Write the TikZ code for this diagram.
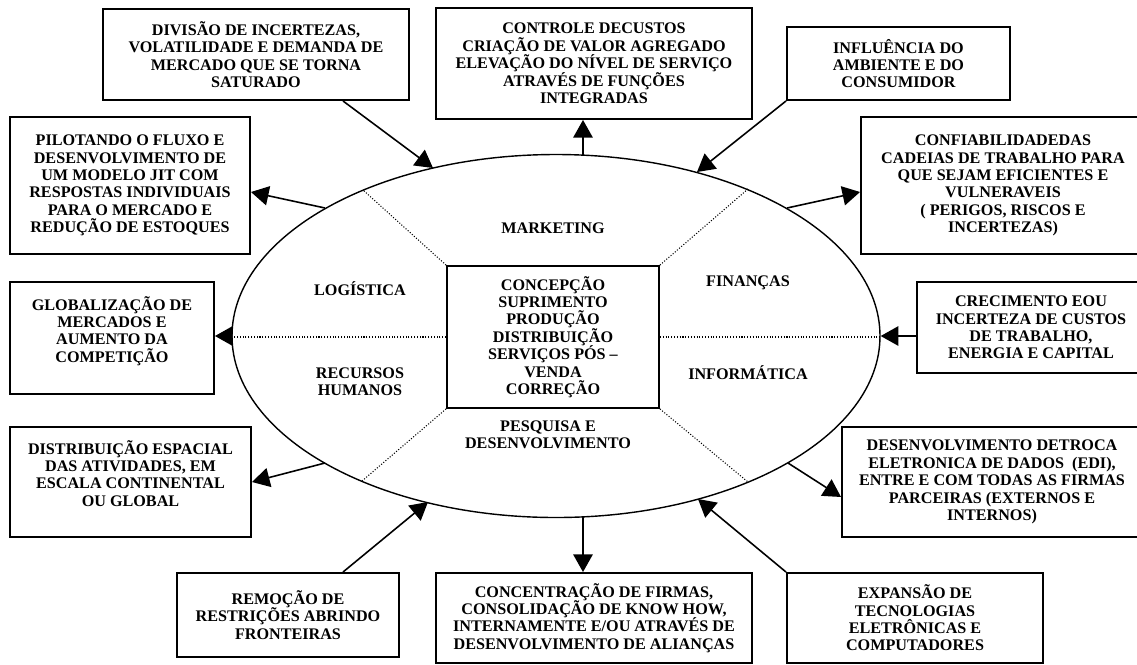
\documentclass[tikz,border=0pt]{standalone}
\usepackage{fontspec}
\setmainfont{Liberation Serif}
\usetikzlibrary{arrows.meta,shapes.geometric,calc}
\begin{document}
\begin{tikzpicture}[x=0.02cm, y=-0.02cm,
        box/.style 2 args={draw, line width=1.1pt, align=center, inner sep=0pt,
            minimum width=#1*0.02cm, minimum height=#2*0.02cm,
            font=\bfseries\fontsize{9.2}{9.9}\selectfont},
        lbl/.style={align=center, font=\bfseries\fontsize{9.2}{9.9}\selectfont},
        link/.style={line width=0.9pt, -{Triangle[length=10pt,width=11pt]}},
        sep/.style={densely dotted, line width=0.6pt}]
    \useasboundingbox (0,0) rectangle (1137,664);
        \node[draw, ellipse, line width=0.8pt, inner sep=0pt, minimum width=648*0.02cm, minimum height=363*0.02cm] (ell) at (556,336) {};
        \node[box={212}{142}] (ctr) at (553,337) {CONCEPÇÃO\\SUPRIMENTO\\PRODUÇÃO\\DISTRIBUIÇÃO\\SERVIÇOS PÓS --\\VENDA\\CORREÇÃO};
        \node[lbl] (mkt) at (553,228) {MARKETING};
        \node[lbl] (log) at (360,289) {LOGÍSTICA};
        \node[lbl] (fin) at (748,283) {FINANÇAS};
        \node[lbl] (rh) at (360,382) {RECURSOS\\HUMANOS};
        \node[lbl] (inf) at (748,373) {INFORMÁTICA};
        \node[lbl] (ped) at (548,435) {PESQUISA E\\DESENVOLVIMENTO};
        \node[box={306}{91}] (divisao) at (256,54.5) {DIVISÃO DE INCERTEZAS,\\VOLATILIDADE E DEMANDA DE\\MERCADO QUE SE TORNA\\SATURADO};
        \node[box={240}{137}] (piloto) at (130,185.5) {PILOTANDO O FLUXO E\\DESENVOLVIMENTO DE\\UM MODELO JIT COM\\RESPOSTAS INDIVIDUAIS\\PARA O MERCADO E\\REDUÇÃO DE ESTOQUES};
        \node[box={316}{111}] (custos) at (594,63.5) {CONTROLE DECUSTOS\\CRIAÇÃO DE VALOR AGREGADO\\ELEVAÇÃO DO NÍVEL DE SERVIÇO\\ATRAVÉS DE FUNÇÕES\\INTEGRADAS};
        \node[box={223}{73}] (ambiente) at (898.5,63.5) {INFLUÊNCIA DO\\AMBIENTE E DO\\CONSUMIDOR};
        \node[box={284}{137}] (confia) at (1003,185.5) {CONFIABILIDADEDAS\\CADEIAS DE TRABALHO PARA\\QUE SEJAM EFICIENTES E\\VULNERAVEIS\\( PERIGOS, RISCOS E\\INCERTEZAS)};
        \node[box={204}{112}] (global) at (112,338) {GLOBALIZAÇÃO DE\\MERCADOS E\\AUMENTO DA\\COMPETIÇÃO\\\mbox{}};
        \node[box={228}{91}] (cresc) at (1031,327.5) {CRECIMENTO EOU\\INCERTEZA DE CUSTOS\\DE TRABALHO,\\ENERGIA E CAPITAL};
        \node[box={241}{110}] (espaco) at (130.5,482) {DISTRIBUIÇÃO ESPACIAL\\DAS ATIVIDADES, EM\\ESCALA CONTINENTAL\\OU GLOBAL\\\mbox{}};
        \node[box={222}{84}] (fronteira) at (288,615) {REMOÇÃO DE\\RESTRIÇÕES ABRINDO\\FRONTEIRAS};
        \node[box={316}{90}] (firmas) at (594,618) {CONCENTRAÇÃO DE FIRMAS,\\CONSOLIDAÇÃO DE KNOW HOW,\\INTERNAMENTE E/OU ATRAVÉS DE\\DESENVOLVIMENTO DE ALIANÇAS};
        \node[box={300}{110}] (edi) at (992,482) {DESENVOLVIMENTO DETROCA\\ELETRONICA DE DADOS~~(EDI),\\ENTRE E COM TODAS AS FIRMAS\\PARCEIRAS (EXTERNOS E\\INTERNOS)};
        \node[box={256}{90}] (tecno) at (915,618) {EXPANSÃO DE\\TECNOLOGIAS\\ELETRÔNICAS E\\COMPUTADORES};
        % pontos na elipse
        \coordinate (e1) at (433,168);
        \coordinate (e2) at (325,208);
        \coordinate (e3) at (583,155);
        \coordinate (e4) at (697,172);
        \coordinate (e5) at (787,208);
        \coordinate (e8) at (325,463);
        \coordinate (e9) at (428,502);
        \coordinate (e10) at (583,517);
        \coordinate (e11) at (788,463);
        \coordinate (e12) at (698,499);
        \coordinate (d1) at (363,190);
        \coordinate (d2) at (748,189);
        \coordinate (d3) at (362,481);
        \coordinate (d4) at (748,482);
        % divisoes pontilhadas
        \draw[sep] (ctr.west) -- (ctr.west -| ell.west);
        \draw[sep] (ctr.east) -- (ctr.east -| ell.east);
        \draw[sep] (ctr.north west) -- (d1);
        \draw[sep] (ctr.north east) -- (d2);
        \draw[sep] (ctr.south west) -- (d3);
        \draw[sep] (ctr.south east) -- (d4);
        % setas
        \draw[link] ($(divisao.south)+(87,0)$) -- (e1);
        \draw[link] (e2) -- ($(piloto.east)+(0,6.5)$);
        \draw[link] (e3) -- (custos.south -| e3);
        \draw[link] (ambiente.south west) -- (e4);
        \draw[link] (e5) -- ($(confia.west)+(0,6.5)$);
        \draw[link] (ell.west) -- (ell.west -| global.east);
        \draw[link] (ell.east -| cresc.west) -- (ell.east);
        \draw[link] (e8) -- (espaco.east);
        \draw[link] ($(fronteira.north)+(55,0)$) -- (e9);
        \draw[link] (e10) -- (firmas.north -| e10);
        \draw[link] (e11) -- ($(edi.west)+(0,15)$);
        \draw[link] (tecno.north west) -- (e12);
\end{tikzpicture}
\end{document}
